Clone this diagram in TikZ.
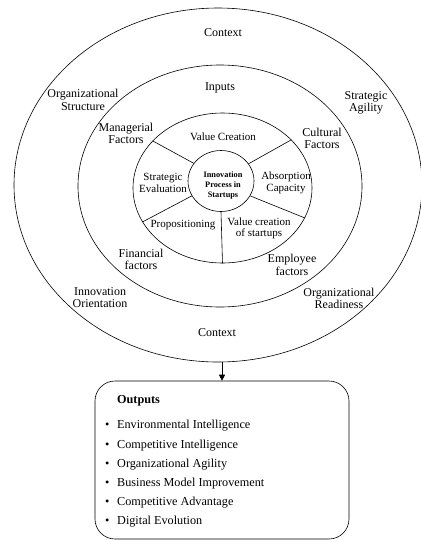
\documentclass[tikz,border=0pt]{standalone}
\usepackage{fontspec}
\setmainfont{Liberation Serif}
\usetikzlibrary{shapes.geometric,arrows.meta}
\begin{document}
\begin{tikzpicture}[x=1pt,y=-1pt,
  ring/.style={draw, ellipse, inner sep=0pt, line width=0.6pt},
  lbl/.style={align=center, inner sep=0pt, font=\fontsize{12}{12.5}\selectfont},
  rlbl/.style={align=center, inner sep=0pt, font=\fontsize{11}{11.5}\selectfont},
  item/.style={anchor=west, inner sep=0pt, font=\fontsize{12.2}{13}\selectfont},
  spoke/.style={line width=0.6pt}]
\useasboundingbox (0,0) rectangle (421,542);
% ellipses
\node[ring, minimum width=408pt, minimum height=354pt] (outer) at (218,185) {};
\node[ring, minimum width=284pt, minimum height=242pt] (mid) at (220,186) {};
\node[ring, minimum width=179pt, minimum height=150pt] (ring) at (222.5,188) {};
\node[ring, minimum width=66pt, minimum height=61pt] (core) at (221,181) {};
% spokes
\draw[spoke] (core.147) -- (ring.146);
\draw[spoke] (core.32) -- (ring.35);
\draw[spoke] (core.207) -- (ring.203);
\draw[spoke] (core.333) -- (ring.340);
\draw[spoke] (core.south) -- (ring.south);
% core text
\node[align=center, inner sep=0pt, font=\fontsize{8.3}{10}\selectfont\bfseries] (coretxt) at (223,185) {Innovation\\Process in\\Startups};
% ring labels
\node[rlbl] (vc) at (223,137) {Value Creation};
\node[rlbl] (se) at (163,183) {Strategic\\Evaluation};
\node[rlbl] (ac) at (286,183) {Absorption\\Capacity};
\node[rlbl] (pp) at (183,225) {Propositioning};
\node[rlbl] (vcs) at (259,228.5) {Value creation\\of startups};
% middle labels
\node[lbl] (inp) at (220,88) {Inputs};
\node[lbl] (mf) at (126,133.5) {Managerial\\Factors};
\node[lbl] (cf) at (322,138.5) {Cultural\\Factors};
\node[lbl] (ff) at (141,259.5) {Financial\\factors};
\node[lbl] (ef) at (292,265) {Employee\\factors};
% outer labels
\node[lbl] (ctx1) at (223,33) {Context};
\node[lbl] (os) at (83,100) {Organizational\\Structure};
\node[lbl] (sa) at (366,103) {Strategic\\Agility};
\node[lbl] (io) at (100,297.5) {Innovation\\Orientation};
\node[lbl] (or) at (339,298.5) {Organizational\\Readiness};
\node[lbl] (ctx2) at (217,333) {Context};
% outputs box
\node[draw, rounded corners=20pt, line width=0.6pt, minimum width=254pt, minimum height=158pt, inner sep=0pt] (box) at (222,460) {};
\draw[line width=0.6pt, -{Triangle[length=6pt,width=6pt]}] (outer.south -| box.north) -- (box.north);
\node[item, font=\fontsize{12.2}{13}\selectfont\bfseries] (outh) at (117,401) {Outputs};
\node[item] (o1) at (105,426) {\makebox[12pt][l]{\textbullet}Environmental Intelligence};
\node[item] (o2) at (105,445.2) {\makebox[12pt][l]{\textbullet}Competitive Intelligence};
\node[item] (o3) at (105,464.4) {\makebox[12pt][l]{\textbullet}Organizational Agility};
\node[item] (o4) at (105,483.6) {\makebox[12pt][l]{\textbullet}Business Model Improvement};
\node[item] (o5) at (105,502.8) {\makebox[12pt][l]{\textbullet}Competitive Advantage};
\node[item] (o6) at (105,522) {\makebox[12pt][l]{\textbullet}Digital Evolution};
\end{tikzpicture}
\end{document}
